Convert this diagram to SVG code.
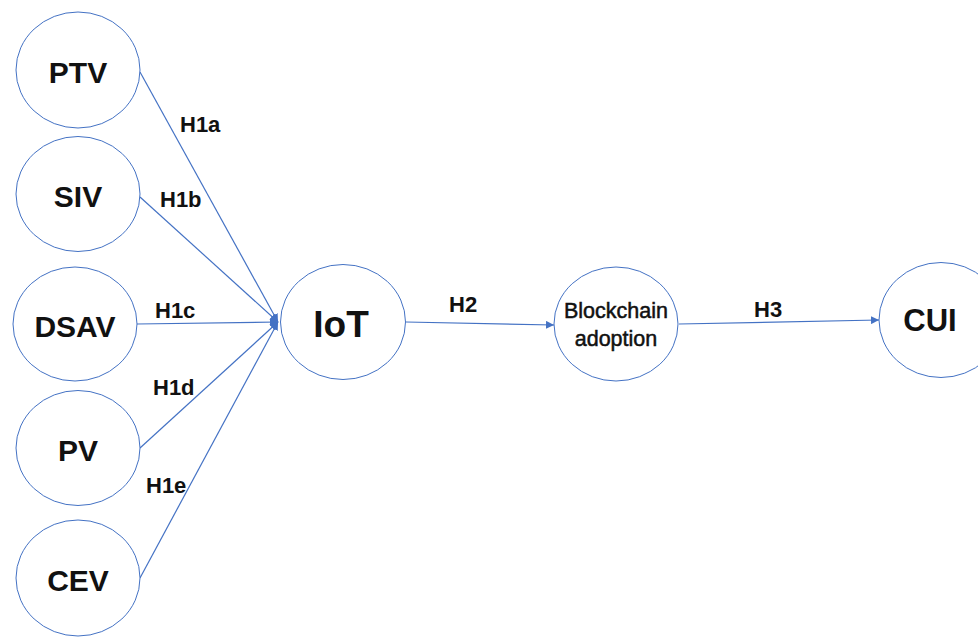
<svg xmlns="http://www.w3.org/2000/svg" width="978" height="637" viewBox="0 0 978 637">
<style>
.node ellipse{fill:#fff;stroke:#4472C4;stroke-width:1}
.lbl{font-family:"Liberation Sans",Arial,sans-serif;font-weight:bold;fill:#111;text-anchor:middle}
.big{font-size:30px}
.sub{font-family:"Liberation Sans",Arial,sans-serif;font-weight:normal;font-size:21.5px;fill:#111;stroke:#111;stroke-width:0.5;text-anchor:middle}
.hyp{font-family:"Liberation Sans",Arial,sans-serif;font-weight:bold;font-size:22px;fill:#111}
.edge{stroke:#4472C4;stroke-width:1.2;fill:none;marker-end:url(#arr)}
</style>
<defs>
<marker id="arr" viewBox="0 0 10 10" refX="10" refY="5" markerWidth="8" markerHeight="8" markerUnits="userSpaceOnUse" orient="auto">
<path d="M0,0 L10,5 L0,10 z" fill="#4472C4"/>
</marker>
</defs>
<rect width="978" height="637" fill="#fff"/>
<g id="connectors">
<line class="edge" x1="140" y1="72" x2="278" y2="322"/>
<line class="edge" x1="140" y1="197" x2="278" y2="322"/>
<line class="edge" x1="137" y1="324" x2="278" y2="322"/>
<line class="edge" x1="140" y1="448" x2="278" y2="322"/>
<line class="edge" x1="140" y1="578" x2="278" y2="322"/>
<line class="edge" x1="406" y1="322" x2="554" y2="325"/>
<line class="edge" x1="679" y1="324" x2="879" y2="320"/>
<text class="hyp" x="180" y="132">H1a</text>
<text class="hyp" x="160" y="207">H1b</text>
<text class="hyp" x="155" y="318">H1c</text>
<text class="hyp" x="153" y="395">H1d</text>
<text class="hyp" x="146" y="493">H1e</text>
<text class="hyp" x="449" y="312">H2</text>
<text class="hyp" x="754" y="317">H3</text>
</g>
<g id="PTV" class="node"><ellipse cx="78" cy="70" rx="62" ry="58"/><text class="lbl big" x="78" y="83">PTV</text></g>
<g id="SIV" class="node"><ellipse cx="78" cy="194" rx="62" ry="57.5"/><text class="lbl big" x="78" y="207">SIV</text></g>
<g id="DSAV" class="node"><ellipse cx="75" cy="324" rx="62" ry="57"/><text class="lbl big" x="75" y="337">DSAV</text></g>
<g id="PV" class="node"><ellipse cx="78" cy="448" rx="62" ry="57.5"/><text class="lbl big" x="78" y="461">PV</text></g>
<g id="CEV" class="node"><ellipse cx="78" cy="578" rx="62" ry="58"/><text class="lbl big" x="78" y="591">CEV</text></g>
<g id="IoT" class="node"><ellipse cx="343" cy="322" rx="62.5" ry="57.5"/><text class="lbl" x="341" y="337" font-size="37">IoT</text></g>
<g id="Blockchain" class="node"><ellipse cx="616" cy="324" rx="62" ry="57"/><text class="sub" x="616" y="318">Blockchain</text><text class="sub" x="616" y="346">adoption</text></g>
<g id="CUI" class="node"><ellipse cx="941" cy="320" rx="62" ry="57.5"/><text class="lbl" x="930" y="331" font-size="31">CUI</text></g>
</svg>
